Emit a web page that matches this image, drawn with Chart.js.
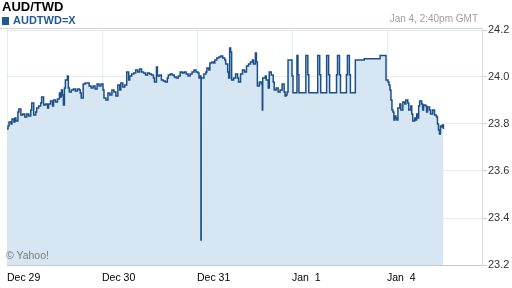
<!DOCTYPE html>
<html>
<head>
<meta charset="utf-8">
<script src="https://cdn.jsdelivr.net/npm/chart.js@4"></script>
<style>
  body { margin: 0; background: #fff; font-family: "Liberation Sans", Arial, sans-serif; }
  #wrap { position: relative; width: 512px; height: 288px; overflow: hidden; }
  #chart { position: absolute; left: 0; top: 0; }
  .txt { position: absolute; white-space: pre; z-index: 2; }
  #title { left: 2px; top: 0; font-size: 13px; line-height: 13px; font-weight: bold; color: #000; }
  #sym { left: 13px; top: 15px; font-size: 11px; line-height: 11px; font-weight: bold; color: #1f5a96; }
  #mark { position: absolute; left: 2px; top: 17px; width: 7px; height: 8px; background: #1f5a96; z-index: 2; }
  #stamp { right: 34px; top: 14px; font-size: 10px; line-height: 10px; color: #a0a0a0; }
  #copy { left: 6px; top: 250px; font-size: 10.5px; line-height: 10.5px; color: #7a7a7a; }
  #rule { position: absolute; left: 0; top: 28px; width: 483px; height: 1px; background: #d6d6d6; z-index: 2; }
</style>
</head>
<body>
<div id="wrap">
  <canvas id="chart" width="512" height="288"></canvas>
  <div class="txt" id="title">AUD/TWD</div>
  <div id="mark"></div>
  <div class="txt" id="sym">AUDTWD=X</div>
  <div class="txt" id="stamp">Jan 4, 2:40pm GMT</div>
  <div id="rule"></div>
  <div class="txt" id="copy">© Yahoo!</div>
</div>
<script>
// hours since Dec 29 open (weekend removed)
const hours = [
  0, 0.25, 0.5, 1, 1.25, 1.75, 2, 2.25, 2.75, 3,
  3.5, 4, 4.5, 5, 5.5, 6, 6.25, 6.75, 7.25, 7.5,
  8, 8.5, 8.75, 9.25, 9.75, 10.25, 10.5, 11, 11.5, 11.75,
  12.25, 12.75, 13.25, 13.5, 13.75, 14, 14.25, 14.5, 14.75, 15.25,
  15.5, 15.75, 16.25, 16.75, 17.25, 17.75, 18.25, 18.5, 18.75, 19.25,
  19.75, 20.25, 20.75, 21.25, 21.75, 22.25, 22.75, 23.25, 23.75, 24.25,
  24.5, 25, 25.5, 26, 26.5, 27, 27.5, 28, 28.5, 28.75,
  29.25, 29.75, 30.25, 30.75, 31, 31.5, 32, 32.5, 33, 33.5,
  34, 34.5, 35, 35.5, 36, 36.5, 37, 37.25, 37.75, 38,
  38.5, 39, 39.5, 40, 40.5, 40.75, 41.25, 41.75, 42.25, 42.75,
  43.25, 43.75, 44.25, 44.75, 45.25, 45.75, 46.25, 46.75, 47.25, 47.75,
  48.25, 48.5, 48.75, 49, 49.05, 49.75, 50.25, 50.5, 51, 51.25,
  51.75, 52.25, 52.5, 53, 53.5, 54, 54.5, 55, 55.25, 55.75,
  56, 56.25, 56.5, 56.75, 57.25, 57.75, 58.25, 58.5, 59, 59.5,
  60, 60.5, 61, 61.5, 62, 62.25, 62.75, 63, 63.25, 63.75,
  64.25, 64.5, 64.6, 65.25, 65.5, 66, 66.25, 66.75, 67.25, 67.5,
  68, 68.5, 69, 69.5, 70, 70.25, 70.5, 70.75, 71, 72,
  72.25, 73.25, 73.5, 73.75, 75.5, 76, 76.25, 78.5, 79, 79.25,
  80.75, 81.25, 81.5, 83.25, 83.5, 84, 84.25, 85.75, 86, 86.5,
  86.75, 88, 90.25, 94.25, 95.75, 96.25, 96.5, 96.75, 97, 97.25,
  97.5, 97.75, 98, 98.25, 98.5, 98.75, 99.25, 99.5, 100, 100.5,
  100.75, 101.25, 101.5, 102, 102.25, 102.5, 103, 103.25, 103.5, 103.75,
  104, 104.25, 104.75, 105, 105.25, 105.75, 106, 106.25, 106.75, 107,
  107.5, 108, 108.5, 108.75, 109, 109.25, 109.5, 109.75, 110, 110.25
];

const rates = [
  23.779, 23.791, 23.809, 23.800, 23.821, 23.809, 23.826, 23.813, 23.851, 23.864,
  23.838, 23.843, 23.830, 23.843, 23.834, 23.860, 23.889, 23.838, 23.851, 23.868,
  23.877, 23.889, 23.915, 23.881, 23.885, 23.868, 23.885, 23.898, 23.877, 23.902,
  23.894, 23.906, 23.932, 23.915, 23.945, 23.923, 23.881, 23.953, 23.987, 24.004,
  23.953, 23.936, 23.945, 23.949, 23.940, 23.949, 23.945, 23.932, 23.911, 23.970,
  23.974, 23.974, 23.962, 23.953, 23.962, 23.949, 23.970, 23.962, 23.970, 23.945,
  23.911, 23.902, 23.932, 23.923, 23.945, 23.936, 23.919, 23.966, 23.945, 23.974,
  23.957, 23.966, 24.021, 23.987, 24.004, 24.013, 24.017, 24.030, 24.021, 24.034,
  24.021, 24.017, 24.009, 24.017, 24.013, 24.009, 23.996, 23.979, 24.043, 24.004,
  24.009, 23.987, 23.983, 23.979, 23.996, 24.009, 24.013, 24.009, 24.000, 23.996,
  24.004, 24.021, 24.017, 24.021, 24.013, 24.004, 24.013, 24.021, 24.030, 24.021,
  24.017, 23.996, 24.004, 23.306, 23.996, 24.013, 24.021, 24.038, 24.030, 24.060,
  24.064, 24.060, 24.072, 24.081, 24.085, 24.089, 24.081, 24.072, 24.055, 24.021,
  23.996, 24.123, 24.106, 23.987, 23.996, 24.013, 23.996, 23.979, 24.013, 24.030,
  24.021, 24.047, 24.055, 24.064, 24.072, 24.055, 24.102, 24.064, 23.962, 23.979,
  23.970, 23.860, 23.996, 24.004, 23.987, 23.953, 24.021, 24.009, 23.979, 23.945,
  23.953, 23.936, 23.945, 23.970, 23.936, 23.919, 23.923, 23.936, 24.072, 24.004,
  23.933, 24.092, 24.010, 23.933, 24.092, 24.010, 23.933, 24.092, 24.010, 23.933,
  24.092, 24.010, 23.933, 24.010, 24.092, 24.010, 23.933, 24.010, 24.092, 24.010,
  23.933, 24.072, 24.078, 24.092, 23.987, 23.979, 23.966, 23.945, 23.902, 23.860,
  23.851, 23.817, 23.834, 23.826, 23.817, 23.868, 23.885, 23.860, 23.894, 23.885,
  23.902, 23.889, 23.860, 23.877, 23.843, 23.813, 23.826, 23.817, 23.843, 23.826,
  23.877, 23.898, 23.885, 23.860, 23.881, 23.877, 23.851, 23.872, 23.860, 23.843,
  23.860, 23.838, 23.830, 23.800, 23.774, 23.757, 23.791, 23.787, 23.796, 23.779
];

const dayLabels = ['Dec 29', 'Dec 30', 'Dec 31', 'Jan  1', 'Jan  4'];
const yTicks = [23.2, 23.4, 23.6, 23.8, 24.0, 24.2];

const fontFam = '"Liberation Sans", Arial, sans-serif';
const gridCol = 'rgba(120, 160, 205, 0.2)';

new Chart(document.getElementById('chart'), {
  type: 'line',
  data: {
    datasets: [{
      data: hours.map((h, i) => ({ x: h, y: rates[i] })),
      borderColor: '#1b4f8a',
      borderWidth: 1.5,
      backgroundColor: '#d6e6f2',
      fill: 'start',
      stepped: true,
      pointRadius: 0,
      tension: 0
    }]
  },
  options: {
    responsive: false,
    animation: false,
    layout: { padding: { left: 3, top: 30, right: 0, bottom: 0 } },
    plugins: { legend: { display: false }, tooltip: { enabled: false } },
    scales: {
      x: {
        type: 'linear',
        min: 0,
        max: 120,
        z: 1,
        afterFit: s => { s.height = 23; },
        ticks: {
          stepSize: 24,
          align: 'start',
          padding: 7,
          autoSkip: false,
          maxRotation: 0,
          color: '#000',
          font: { size: 10.5, family: fontFam },
          callback: v => dayLabels[v / 24] || ''
        },
        grid: { color: gridCol, drawTicks: false },
        border: { color: '#c8c8c8' }
      },
      y: {
        position: 'right',
        min: yTicks[0],
        max: yTicks[yTicks.length - 1],
        z: 1,
        afterFit: s => { s.width = 30; },
        afterBuildTicks: s => { s.ticks = yTicks.map(v => ({ value: v })); },
        ticks: {
          padding: 1,
          color: '#333',
          font: { size: 11, family: fontFam },
          callback: v => v.toFixed(1)
        },
        grid: { color: gridCol, tickColor: '#d0d0d0', tickLength: 5 },
        border: { color: '#d8d8d8' }
      }
    }
  }
});
</script>
</body>
</html>
